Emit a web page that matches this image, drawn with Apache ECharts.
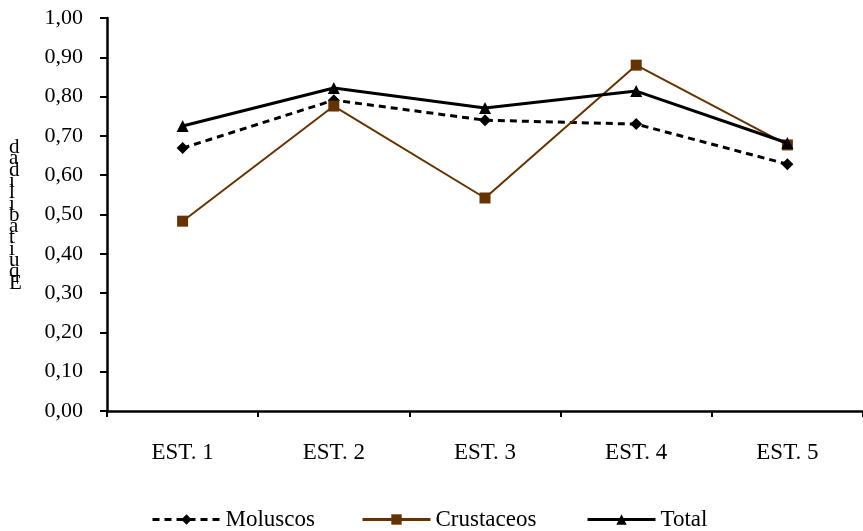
<!DOCTYPE html>
<html><head><meta charset="utf-8">
<script src="https://cdn.jsdelivr.net/npm/echarts@6/dist/echarts.min.js"></script>
<style>html,body{margin:0;padding:0;background:#fff}#c{width:863px;height:531px}</style>
</head><body><div id="c"></div>
<script>
const categories = ['EST. 1','EST. 2','EST. 3','EST. 4','EST. 5'];
const moluscos = [0.669, 0.791, 0.740, 0.730, 0.628];
const crustaceos = [0.483, 0.776, 0.542, 0.880, 0.677];
const total = [0.725, 0.822, 0.771, 0.814, 0.682];
const seriesNames = ['Moluscos','Crustaceos','Total'];
const yLabel = 'Equitabilidad';

const font = 'Liberation Serif, Times New Roman, serif';
const chart = echarts.init(document.getElementById('c'), null, {renderer:'canvas'});
const legendLefts = [146, 356, 581];
chart.setOption({
  animation:false,
  backgroundColor:'#fff',
  grid:{left:107, top:18, width:760, height:393, containLabel:false},
  xAxis:{type:'category', data:categories, boundaryGap:true,
    axisLine:{lineStyle:{color:'#000', width:2.5}},
    axisTick:{show:true, alignWithLabel:false, length:6, lineStyle:{color:'#000', width:2}},
    axisLabel:{color:'#000', fontFamily:font, fontSize:23, margin:30},
    splitLine:{show:false}},
  yAxis:{type:'value', min:0, max:1, interval:0.1,
    axisLine:{show:true, lineStyle:{color:'#000', width:2.5}},
    axisTick:{show:true, inside:false, length:7, lineStyle:{color:'#000', width:2}},
    axisLabel:{color:'#000', fontFamily:font, fontSize:22, margin:24,
      formatter:v=>v.toFixed(2).replace('.',',')},
    splitLine:{show:false}},
  legend: seriesNames.map((n,i)=>({left:legendLefts[i], top:503, itemWidth:68, itemHeight:13,
    lineStyle:{width:3},
    textStyle:{color:'#000', fontFamily:font, fontSize:23}, data:[n]})),
  graphic:[{type:'text', left:9, top:137,
    style:{text:yLabel.split('').reverse().join('\n'), font:'21px '+font, fill:'#000',
      lineHeight:11.3, align:'center'}}],
  series:[
    {name:seriesNames[0], type:'line', data:moluscos, symbol:'diamond', symbolSize:12,
      lineStyle:{color:'#000', width:3, type:[7,5]}, itemStyle:{color:'#000'}, z:2},
    {name:seriesNames[1], type:'line', data:crustaceos, symbol:'rect', symbolSize:11,
      lineStyle:{color:'#663300', width:2}, itemStyle:{color:'#663300'}, z:3},
    {name:seriesNames[2], type:'line', data:total, symbol:'triangle', symbolSize:12,
      lineStyle:{color:'#000', width:3}, itemStyle:{color:'#000'}, z:4}
  ]
});
</script></body></html>
